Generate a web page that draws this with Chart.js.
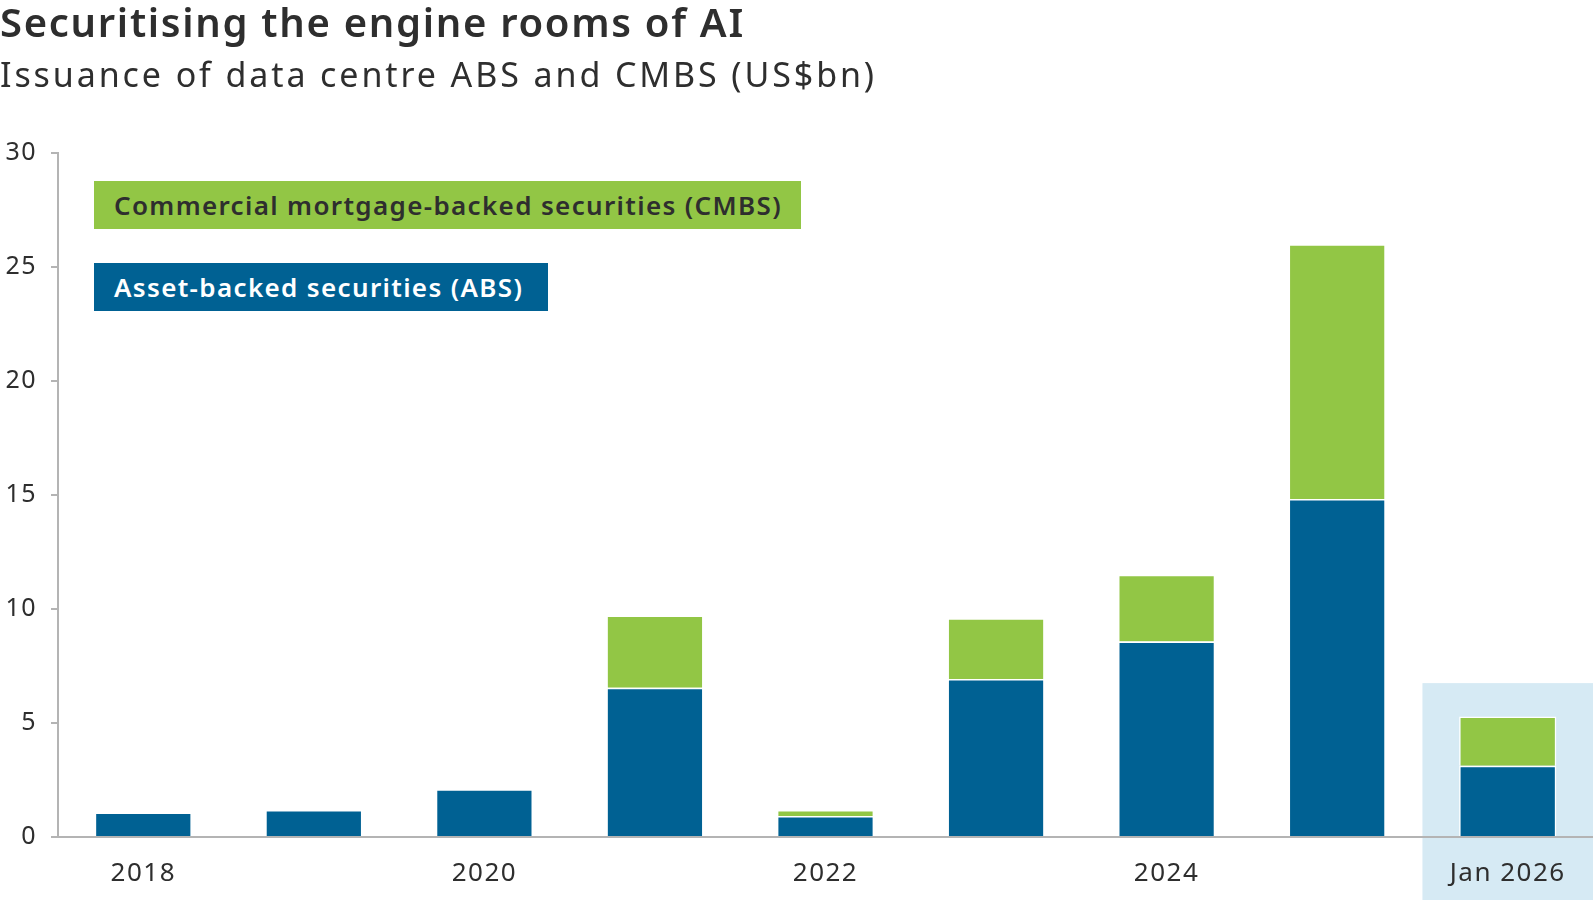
<!DOCTYPE html>
<html>
<head>
<meta charset="utf-8">
<title>Securitising the engine rooms of AI</title>
<script src="https://cdn.jsdelivr.net/npm/chart.js@4.4.1/dist/chart.umd.min.js"></script>
<style>
  body { margin: 0; background: #fff; font-family: "Noto Sans", sans-serif; color: #2e2e2e; }
  #wrap { position: relative; width: 1593px; height: 900px; overflow: hidden; }
  #chartBox { position: absolute; left: 0; top: 0; width: 1593px; height: 900px; }
  h1 { position: absolute; left: 0; top: -6px; margin: 0; font-size: 40px; font-weight: 600; letter-spacing: 1.7px; }
  h2 { position: absolute; left: 0; top: 51px; margin: 0; font-size: 34px; font-weight: 400; letter-spacing: 2.9px; }
  .key { position: absolute; left: 94px; height: 48px; line-height: 48px; padding-left: 20px;
         box-sizing: border-box; font-size: 26px; font-weight: 600; letter-spacing: 1.35px; }
  #keyCmbs { top: 181px; width: 707px; background: #92c645; color: #2e2e2e; }
  #keyAbs { top: 263px; width: 454px; background: #006193; color: #fff; }
</style>
</head>
<body>
<div id="wrap">
  <div id="chartBox"><canvas id="myChart"></canvas></div>
  <h1>Securitising the engine rooms of AI</h1>
  <h2>Issuance of data centre ABS and CMBS (US$bn)</h2>
  <div class="key" id="keyCmbs">Commercial mortgage-backed securities (CMBS)</div>
  <div class="key" id="keyAbs">Asset-backed securities (ABS)</div>
</div>
<script>
const categories = ["2018", "2019", "2020", "2021", "2022", "2023", "2024", "2025", "Jan 2026"];
const shownLabels = ["2018", "2020", "2022", "2024", "Jan 2026"];
const absValues = [1.07, 1.18, 2.09, 6.55, 0.92, 6.93, 8.57, 14.82, 3.13];
const cmbsValues = [0, 0, 0, 3.17, 0.26, 2.66, 2.93, 11.18, 2.15];
const yTicks = [0, 5, 10, 15, 20, 25, 30];

// light blue panel behind the latest (partial-year) bar
const highlightIndex = 8;
const highlightTop = 6.75;

const highlightPlugin = {
  id: "highlight",
  beforeDraw(chart) {
    const { ctx, scales } = chart;
    const x = scales.x;
    const half = (x.getPixelForValue(1) - x.getPixelForValue(0)) / 2;
    const cx = x.getPixelForValue(highlightIndex);
    const top = scales.y.getPixelForValue(highlightTop);
    ctx.fillStyle = "#d6eaf4";
    ctx.fillRect(cx - half, top, half * 2, chart.height - top);
    // wider lettering for the tick labels
    ctx.letterSpacing = "1.5px";
  },
};

const ctx = document.getElementById("myChart");

const data = {
  labels: categories,
  datasets: [
    {
      label: "Asset-backed securities (ABS)",
      data: absValues,
      backgroundColor: "#006193",
      borderColor: "#ffffff",
      borderWidth: 1.5,
      borderSkipped: "bottom",
    },
    {
      label: "Commercial mortgage-backed securities (CMBS)",
      data: cmbsValues,
      backgroundColor: "#92c645",
      borderColor: "#ffffff",
      borderWidth: 1.5,
      borderSkipped: "bottom",
    },
  ],
};

const config = {
  type: "bar",
  data: data,
  plugins: [highlightPlugin],
  options: {
    responsive: true,
    maintainAspectRatio: false,
    animation: false,
    datasets: { bar: { categoryPercentage: 1, barPercentage: 0.57 } },
    layout: { padding: { top: 153, right: 0, left: 0, bottom: 0 } },
    plugins: { legend: { display: false }, tooltip: { enabled: false } },
    scales: {
      x: {
        stacked: true,
        grid: { display: false },
        border: { color: "#b4b4b4", width: 2 },
        ticks: {
          color: "#2e2e2e",
          font: { family: "Noto Sans", size: 26 },
          padding: 13,
          autoSkip: false,
          maxRotation: 0,
          callback: (v, i) => (shownLabels.includes(categories[i]) ? categories[i] : ""),
        },
        afterFit: (s) => { s.height = 63; },
      },
      y: {
        stacked: true,
        min: 0,
        max: 30,
        afterBuildTicks: (s) => { s.ticks = yTicks.map((v) => ({ value: v })); },
        grid: { drawOnChartArea: false, color: "#b4b4b4", lineWidth: 2, tickLength: 7 },
        border: { color: "#b4b4b4", width: 2 },
        ticks: {
          color: "#2e2e2e",
          font: { family: "Noto Sans", size: 25 },
          padding: 14,
        },
        afterFit: (s) => { s.width = 58; },
      },
    },
  },
};

const myChart = new Chart(ctx, config);
</script>
</body>
</html>
